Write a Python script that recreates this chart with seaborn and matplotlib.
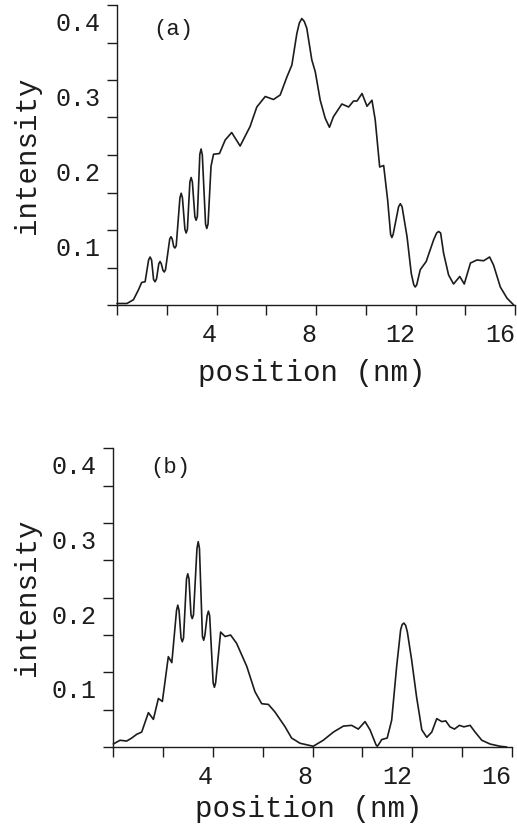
import matplotlib
matplotlib.use("Agg")
import matplotlib.pyplot as plt
from matplotlib.ticker import FixedLocator, MultipleLocator
from matplotlib.transforms import ScaledTranslation
import seaborn as sns
import pandas as pd

# ---- data ----
pos_a = [0.0, 0.4, 0.66, 0.86, 0.99, 1.13, 1.27, 1.33, 1.39, 1.47, 1.53, 1.59, 1.68, 1.73,
         1.78, 1.85, 1.90, 1.95, 2.12, 2.17, 2.22, 2.28, 2.33, 2.38, 2.53, 2.58, 2.63, 2.73,
         2.78, 2.83, 2.93, 2.98, 3.03, 3.13, 3.18, 3.23, 3.33, 3.38, 3.43, 3.56, 3.61, 3.66,
         3.78, 3.88, 4.12, 4.35, 4.61, 4.95, 5.35, 5.62, 5.96, 6.29, 6.56, 6.83, 7.03, 7.23,
         7.33, 7.43, 7.53, 7.63, 7.83, 7.97, 8.17, 8.37, 8.54, 8.70, 9.04, 9.31, 9.51, 9.65,
         9.85, 10.05, 10.25, 10.38, 10.56, 10.72, 10.88, 11.00, 11.05, 11.10, 11.32, 11.39,
         11.46, 11.66, 11.83, 11.93, 11.99, 12.05, 12.19, 12.43, 12.73, 12.85, 12.93, 13.01,
         13.13, 13.33, 13.53, 13.78, 13.96, 14.21, 14.47, 14.74, 14.98, 15.14, 15.41, 15.68,
         15.95]
int_a = [0.002, 0.002, 0.007, 0.020, 0.030, 0.031, 0.060, 0.064, 0.060, 0.034, 0.031, 0.035,
         0.055, 0.058, 0.055, 0.046, 0.044, 0.047, 0.088, 0.091, 0.088, 0.078, 0.076, 0.079,
         0.143, 0.149, 0.143, 0.101, 0.096, 0.101, 0.164, 0.170, 0.164, 0.118, 0.113, 0.118,
         0.201, 0.208, 0.200, 0.108, 0.102, 0.108, 0.185, 0.201, 0.202, 0.220, 0.230, 0.212,
         0.238, 0.264, 0.278, 0.274, 0.280, 0.304, 0.320, 0.362, 0.376, 0.382, 0.378, 0.369,
         0.327, 0.311, 0.273, 0.249, 0.237, 0.251, 0.268, 0.264, 0.272, 0.272, 0.282, 0.265,
         0.273, 0.247, 0.184, 0.186, 0.140, 0.094, 0.090, 0.094, 0.131, 0.135, 0.131, 0.091,
         0.042, 0.027, 0.024, 0.027, 0.047, 0.058, 0.087, 0.096, 0.098, 0.096, 0.069, 0.040,
         0.028, 0.038, 0.028, 0.056, 0.060, 0.059, 0.064, 0.053, 0.024, 0.009, 0.000]

pos_b = [0.0, 0.27, 0.54, 0.74, 0.94, 1.14, 1.41, 1.61, 1.81, 1.97, 2.21, 2.35, 2.54, 2.59,
         2.64, 2.72, 2.77, 2.82, 2.94, 2.99, 3.04, 3.12, 3.17, 3.22, 3.36, 3.41, 3.46, 3.58,
         3.63, 3.68, 3.77, 3.82, 3.87, 4.01, 4.06, 4.11, 4.31, 4.49, 4.71, 4.95, 5.36, 5.69,
         5.96, 6.23, 6.49, 6.90, 7.16, 7.50, 8.03, 8.43, 8.84, 9.24, 9.57, 9.84, 10.11, 10.31,
         10.55, 10.60, 10.65, 10.78, 11.00, 11.18, 11.38, 11.54, 11.60, 11.67, 11.74, 11.81,
         11.98, 12.18, 12.39, 12.59, 12.79, 12.99, 13.19, 13.35, 13.52, 13.70, 13.90, 14.08,
         14.33, 14.53, 14.80, 15.13, 15.53, 15.80]
int_b = [0.004, 0.009, 0.008, 0.012, 0.017, 0.020, 0.046, 0.037, 0.065, 0.061, 0.121, 0.113,
         0.183, 0.190, 0.183, 0.146, 0.141, 0.146, 0.225, 0.232, 0.225, 0.177, 0.172, 0.177,
         0.266, 0.275, 0.266, 0.148, 0.143, 0.150, 0.176, 0.182, 0.176, 0.086, 0.080, 0.086,
         0.154, 0.148, 0.150, 0.139, 0.108, 0.074, 0.058, 0.057, 0.047, 0.027, 0.012, 0.005,
         0.001, 0.009, 0.020, 0.028, 0.029, 0.024, 0.034, 0.023, 0.003, 0.001, 0.003, 0.010,
         0.012, 0.036, 0.108, 0.157, 0.164, 0.166, 0.163, 0.154, 0.117, 0.067, 0.023, 0.013,
         0.020, 0.038, 0.034, 0.035, 0.027, 0.024, 0.029, 0.027, 0.029, 0.020, 0.009, 0.004,
         0.001, 0.000]

x_major = [4, 8, 12, 16]
y_major = [0.1, 0.2, 0.3, 0.4]
panel_tags = ["(a)", "(b)"]

# ---- style ----
sns.set_style("ticks")
plt.rcParams["font.family"] = ["Liberation Mono", "DejaVu Sans Mono"]
ink = "#1c1c1c"

fig = plt.figure(figsize=(5.17, 8.26), dpi=100)
fig.patch.set_facecolor("white")

axes_rects = [
    [117 / 517, 1 - 305 / 826, 398 / 517, 300 / 826],
    [113.3 / 517, 1 - 747 / 826, 398.4 / 517, 298.6 / 826],
]
ylabel_x = [-0.226, -0.217]
xlabel_y = [-0.18, -0.161]
tag_pos = [(2.25, 0.367), (2.28, 0.375)]
down = ScaledTranslation(0, -7 / 100, fig.dpi_scale_trans)

for i, (px, py) in enumerate([(pos_a, int_a), (pos_b, int_b)]):
    ax = fig.add_axes(axes_rects[i])
    df = pd.DataFrame({"position": px, "intensity": py})
    sns.lineplot(data=df, x="position", y="intensity", ax=ax, color=ink,
                 linewidth=1.2, estimator=None, clip_on=False)
    ax.set_xlim(0, 16)
    ax.set_ylim(0, 0.4)
    sns.despine(ax=ax)
    for s in ("left", "bottom"):
        ax.spines[s].set_color(ink)
        ax.spines[s].set_linewidth(1.0)

    ax.xaxis.set_major_locator(FixedLocator(x_major))
    ax.xaxis.set_minor_locator(MultipleLocator(2))
    ax.yaxis.set_major_locator(FixedLocator(y_major))
    ax.yaxis.set_minor_locator(MultipleLocator(0.05))
    ax.set_xticklabels([str(v) for v in x_major])
    ax.set_yticklabels([f"{v:.1f}" for v in y_major])
    ax.tick_params(which="both", direction="out", length=7, width=1.0, color=ink,
                   labelsize=18, labelcolor=ink)
    ax.tick_params(axis="x", which="both", pad=6)
    ax.tick_params(axis="y", which="both", pad=5)
    for lab in ax.get_xticklabels():
        lab.set_horizontalalignment("right")
    for lab in ax.get_yticklabels():
        lab.set_verticalalignment("top")
        lab.set_transform(lab.get_transform() + down)

    ax.set_xlabel("position (nm)", fontsize=21, color=ink)
    ax.set_ylabel("intensity", fontsize=21, color=ink, va="center")
    ax.xaxis.set_label_coords(0.49, xlabel_y[i])
    ax.yaxis.set_label_coords(ylabel_x[i], 0.5)
    ax.text(tag_pos[i][0], tag_pos[i][1], panel_tags[i], fontsize=16, color=ink,
            ha="center", va="center")
    ax.set_facecolor("white")

fig.savefig("out.png", dpi=100)
